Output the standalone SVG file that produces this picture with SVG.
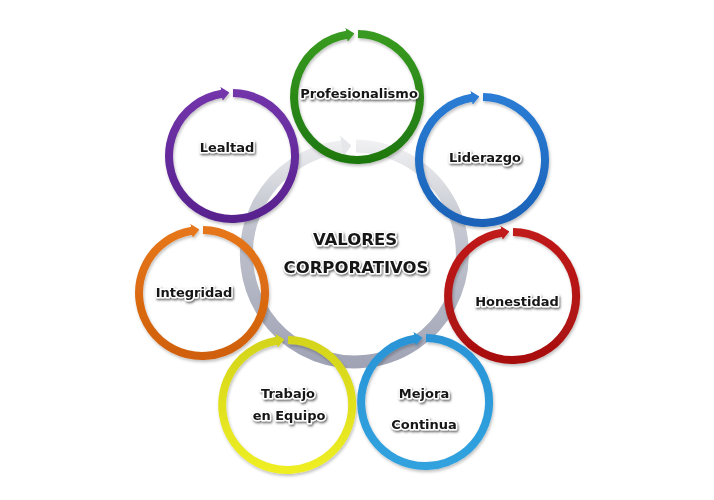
<svg xmlns="http://www.w3.org/2000/svg" width="714" height="500" viewBox="0 0 714 500">
  <defs>
    <style>
      .ring { fill: none; stroke-width: 8; filter: url(#ringShadow); }
      .lbl { font-family: "DejaVu Sans", Verdana, sans-serif; font-weight: bold; font-size: 13px; fill: #151515; stroke: #ffffff; stroke-width: 3; stroke-linejoin: round; paint-order: stroke; text-anchor: middle; filter: url(#txtShadow); }
      .title { font-size: 16.5px; }
    </style>
    <filter id="ringShadow" x="-20%" y="-20%" width="140%" height="140%">
      <feDropShadow dx="1" dy="2" stdDeviation="1.5" flood-color="#000" flood-opacity="0.25"/>
    </filter>
    <filter id="txtShadow" x="-10%" y="-40%" width="120%" height="180%">
      <feDropShadow dx="1" dy="1.5" stdDeviation="1.2" flood-color="#444" flood-opacity="0.85"/>
    </filter>
    <linearGradient id="gGray" gradientUnits="userSpaceOnUse" x1="0" y1="-116" x2="-14" y2="116">
      <stop offset="0" stop-color="#f2f2f4"/>
      <stop offset="0.3" stop-color="#c9ccd4"/>
      <stop offset="1" stop-color="#9ea2b4"/>
    </linearGradient>
    <linearGradient id="gGreen" x1="0" y1="0" x2="0" y2="1"><stop offset="0" stop-color="#389a20"/><stop offset="1" stop-color="#1f7810"/></linearGradient>
    <linearGradient id="gPurple" x1="0" y1="0" x2="0" y2="1"><stop offset="0" stop-color="#7234aa"/><stop offset="1" stop-color="#58228e"/></linearGradient>
    <linearGradient id="gBlue" x1="0" y1="0" x2="0" y2="1"><stop offset="0" stop-color="#2a7cd4"/><stop offset="1" stop-color="#1a62b8"/></linearGradient>
    <linearGradient id="gOrange" x1="0" y1="0" x2="0" y2="1"><stop offset="0" stop-color="#e6761a"/><stop offset="1" stop-color="#d0600a"/></linearGradient>
    <linearGradient id="gRed" x1="0" y1="0" x2="0" y2="1"><stop offset="0" stop-color="#c01a1a"/><stop offset="1" stop-color="#a81010"/></linearGradient>
    <linearGradient id="gYellow" x1="0" y1="0" x2="0" y2="1"><stop offset="0" stop-color="#d4d41c"/><stop offset="1" stop-color="#eeee22"/></linearGradient>
    <linearGradient id="gCyan" x1="0" y1="0" x2="0" y2="1"><stop offset="0" stop-color="#2a94d6"/><stop offset="1" stop-color="#30a2de"/></linearGradient>
    <marker id="aGray" viewBox="0 0 10 22" markerUnits="userSpaceOnUse" markerWidth="10" markerHeight="22" refX="0.5" refY="11" orient="auto"><path d="M0,0 L10,11 L0,22 z" fill="#e6e7ea"/></marker>
    <marker id="aGreen" viewBox="0 0 8 14" markerUnits="userSpaceOnUse" markerWidth="8" markerHeight="14" refX="0.5" refY="7" orient="auto"><path d="M0,0 L8,7 L0,14 z" fill="#389a20"/></marker>
    <marker id="aPurple" viewBox="0 0 8 14" markerUnits="userSpaceOnUse" markerWidth="8" markerHeight="14" refX="0.5" refY="7" orient="auto"><path d="M0,0 L8,7 L0,14 z" fill="#7234aa"/></marker>
    <marker id="aBlue" viewBox="0 0 8 14" markerUnits="userSpaceOnUse" markerWidth="8" markerHeight="14" refX="0.5" refY="7" orient="auto"><path d="M0,0 L8,7 L0,14 z" fill="#2a7cd4"/></marker>
    <marker id="aOrange" viewBox="0 0 8 14" markerUnits="userSpaceOnUse" markerWidth="8" markerHeight="14" refX="0.5" refY="7" orient="auto"><path d="M0,0 L8,7 L0,14 z" fill="#e6761a"/></marker>
    <marker id="aRed" viewBox="0 0 8 14" markerUnits="userSpaceOnUse" markerWidth="8" markerHeight="14" refX="0.5" refY="7" orient="auto"><path d="M0,0 L8,7 L0,14 z" fill="#c01a1a"/></marker>
    <marker id="aYellow" viewBox="0 0 8 14" markerUnits="userSpaceOnUse" markerWidth="8" markerHeight="14" refX="0.5" refY="7" orient="auto"><path d="M0,0 L8,7 L0,14 z" fill="#d4d41c"/></marker>
    <marker id="aCyan" viewBox="0 0 8 14" markerUnits="userSpaceOnUse" markerWidth="8" markerHeight="14" refX="0.5" refY="7" orient="auto"><path d="M0,0 L8,7 L0,14 z" fill="#2a94d6"/></marker>
  </defs>

  <rect width="714" height="500" fill="#ffffff"/>

  <g id="center" transform="translate(354,254)">
    <path d="M2,-108 A108,108 0 1 1 -12,-107.3" fill="none" stroke="url(#gGray)" stroke-width="13" marker-end="url(#aGray)"/>
    <text class="lbl title" x="1" y="-9">VALORES</text>
    <text class="lbl title" x="2" y="19">CORPORATIVOS</text>
  </g>

  <g id="connectors"></g>

  <g id="n-profesionalismo" transform="translate(357,97)">
    <path class="ring" stroke="url(#gGreen)" d="M1,-63 A63,63 0 1 1 -10,-62.2" marker-end="url(#aGreen)"/>
    <text class="lbl" x="2" y="1">Profesionalismo</text>
  </g>

  <g id="n-lealtad" transform="translate(232,156)">
    <path class="ring" stroke="url(#gPurple)" d="M1,-63 A63,63 0 1 1 -10,-62.2" marker-end="url(#aPurple)"/>
    <text class="lbl" x="-5" y="-4">Lealtad</text>
  </g>

  <g id="n-liderazgo" transform="translate(482,160)">
    <path class="ring" stroke="url(#gBlue)" d="M1,-63 A63,63 0 1 1 -10,-62.2" marker-end="url(#aBlue)"/>
    <text class="lbl" x="3" y="2">Liderazgo</text>
  </g>

  <g id="n-integridad" transform="translate(202,293)">
    <path class="ring" stroke="url(#gOrange)" d="M1,-63 A63,63 0 1 1 -10,-62.2" marker-end="url(#aOrange)"/>
    <text class="lbl" x="-8" y="4">Integridad</text>
  </g>

  <g id="n-honestidad" transform="translate(512,296)">
    <path class="ring" stroke="url(#gRed)" d="M1,-64 A64,64 0 1 1 -10,-63.2" marker-end="url(#aRed)"/>
    <text class="lbl" x="5" y="10">Honestidad</text>
  </g>

  <g id="n-trabajo" transform="translate(287,405)">
    <path class="ring" stroke="url(#gYellow)" d="M1,-65 A65,65 0 1 1 -10,-64.2" marker-end="url(#aYellow)"/>
    <text class="lbl" x="1" y="-7">Trabajo</text>
    <text class="lbl" x="2" y="15">en Equipo</text>
  </g>

  <g id="n-mejora" transform="translate(425,402)">
    <path class="ring" stroke="url(#gCyan)" d="M1,-64 A64,64 0 1 1 -10,-63.2" marker-end="url(#aCyan)"/>
    <text class="lbl" x="-1" y="-4">Mejora</text>
    <text class="lbl" x="-1" y="27">Continua</text>
  </g>
</svg>
